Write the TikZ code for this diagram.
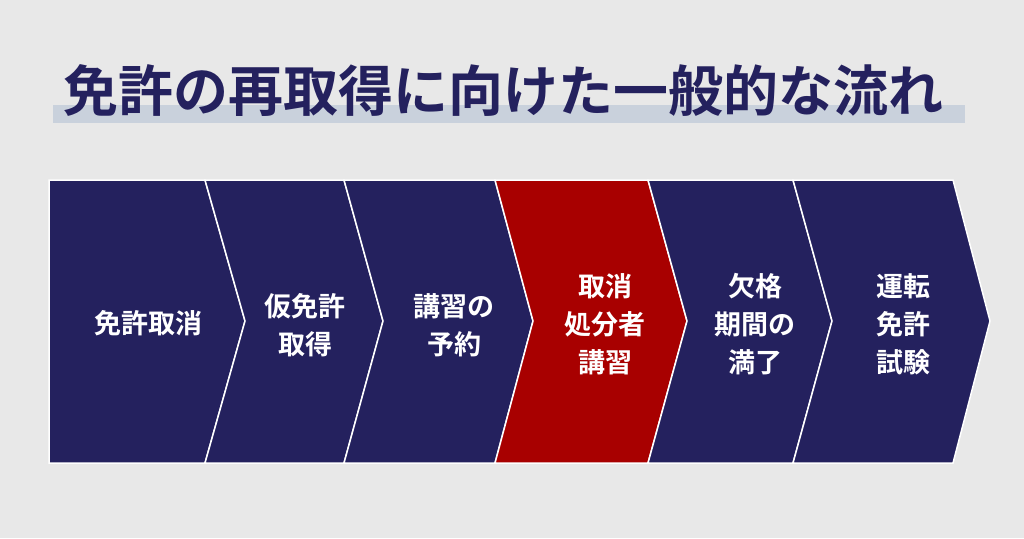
\documentclass[tikz,border=0pt]{standalone}
\usepackage{fontspec}
\setmainfont{Noto Sans CJK JP}[BoldFont={Noto Sans CJK JP Bold}]
\definecolor{bg}{RGB}{232,232,232}
\definecolor{navy}{RGB}{36,33,94}
\definecolor{redc}{RGB}{168,0,0}
\definecolor{band}{RGB}{201,209,220}
\tikzset{
  chev/.style={fill=navy, draw=white, line width=1.5pt, line join=miter},
  chevred/.style={chev, fill=redc},
  lbl/.style={text=white, font=\bfseries\fontsize{27}{38}\selectfont, align=center, inner sep=0pt},
  ttl/.style={text=navy, font=\bfseries\fontsize{55}{60}\selectfont, inner sep=0pt}
}
\begin{document}
\begin{tikzpicture}[x=1pt,y=-1pt]
\useasboundingbox[fill=bg] (0,0) rectangle (1024,538);
% title band
\fill[band] (53,105) rectangle (965,123);
\node[ttl] (title) at (503,91) {免許の再取得に向けた一般的な流れ};
% chevrons
\draw[chev] (49,180) -- (205,180) -- (245,321) -- (205,463) -- (49,463) -- cycle;
\draw[chev] (205,180) -- (344,180) -- (383,321) -- (344,463) -- (205,463) -- (245,321) -- cycle;
\draw[chev] (344,180) -- (495,180) -- (533,321) -- (495,463) -- (344,463) -- (383,321) -- cycle;
\draw[chevred] (495,180) -- (648,180) -- (687,321) -- (648,463) -- (495,463) -- (533,321) -- cycle;
\draw[chev] (648,180) -- (793,180) -- (832,321) -- (793,463) -- (648,463) -- (687,321) -- cycle;
\draw[chev] (793,180) -- (953,180) -- (990,321) -- (953,463) -- (793,463) -- (832,321) -- cycle;
% labels
\node[lbl] (s1) at (148,323) {免許取消};
\node[lbl] (s2) at (305,325) {仮免許\\取得};
\node[lbl] (s3) at (454,325) {講習の\\予約};
\node[lbl] (s4) at (605,324) {取消\\処分者\\講習};
\node[lbl] (s5) at (755,324) {欠格\\期間の\\満了};
\node[lbl] (s6) at (903,324) {運転\\免許\\試験};
\end{tikzpicture}
\end{document}
